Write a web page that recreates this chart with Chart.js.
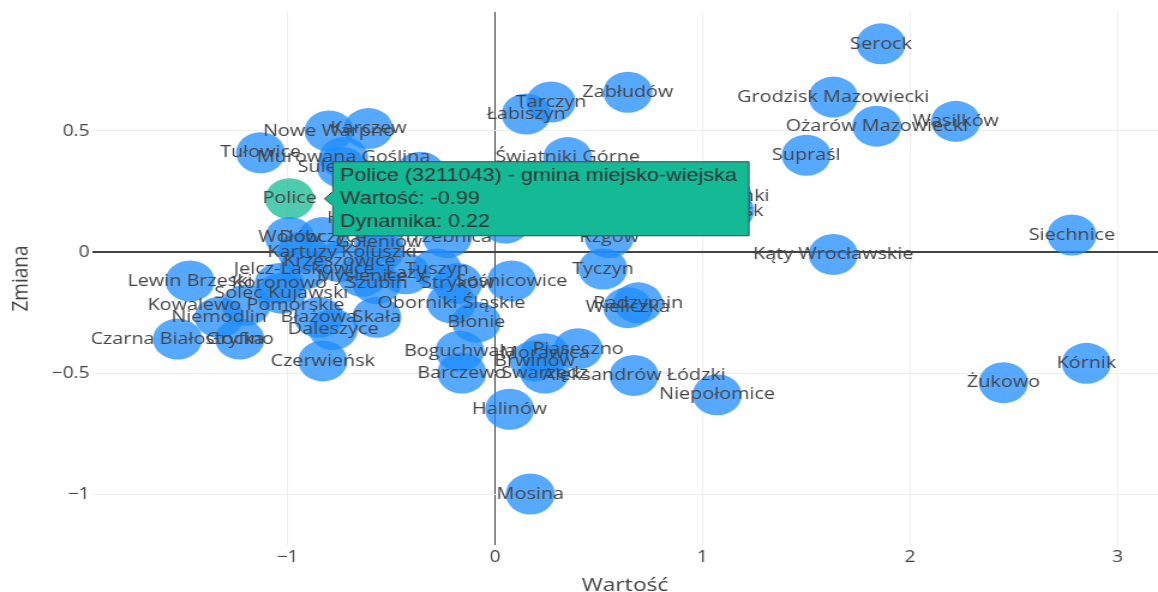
<!DOCTYPE html>
<html>
<head>
<meta charset="utf-8">
<script src="https://cdn.jsdelivr.net/npm/chart.js@4.4.0/dist/chart.umd.min.js"></script>
<style>
html, body { margin: 0; padding: 0; background: #fff; overflow: hidden; }
/* the reference picture is stretched horizontally, so the chart is drawn narrow and scaled */
#wrap { width: 965px; height: 592px; transform: scaleX(1.2); transform-origin: 0 0; }
</style>
</head>
<body>
<div id="wrap"><canvas id="chart" width="965" height="592"></canvas></div>
<script>
const gminy = [
    "Serock", "Grodzisk Mazowiecki", "Ożarów Mazowiecki", "Wasilków", "Supraśl",
    "Kąty Wrocławskie", "Siechnice", "Kórnik", "Żukowo", "Niepołomice",
    "Aleksandrów Łódzki", "Halinów", "Mosina", "Tyczyn", "Radzymin",
    "Wieliczka", "Piaseczno", "Morawica", "Swarzędz", "Brwinów",
    "Barczewo", "Boguchwała", "Błonie", "Oborniki Śląskie", "Sośnicowice",
    "Stryków", "Tuszyn", "Łazy", "Szubin", "Myślenice",
    "Koronowo", "Jelcz-Laskowice", "Krzeszowice", "Kartuzy", "Koluszki",
    "Wołów", "Dobczyce", "Goleniów", "Trzebnica", "Lewin Brzeski",
    "Solec Kujawski", "Kowalewo Pomorskie", "Niemodlin", "Błażowa", "Skała",
    "Daleszyce", "Czarna Białostocka", "Gryfino", "Czerwieńsk", "Tułowice",
    "Nowe Warpno", "Karczew", "Murowana Goślina", "Sulechów", "Hajnówka",
    "Świątniki Górne", "Tarczyn", "Łabiszyn", "Zabłudów", "Rzgów",
    "Łomianki", "Pułtusk", "Dziwnów", "Wołczyn"
];
const wartosc = [
    1.86, 1.63, 1.84, 2.22, 1.50,
    1.63, 2.78, 2.85, 2.45, 1.07,
    0.67, 0.07, 0.17, 0.52, 0.69,
    0.64, 0.40, 0.24, 0.24, 0.19,
    -0.16, -0.17, -0.09, -0.21, 0.08,
    -0.18, -0.28, -0.43, -0.57, -0.64,
    -1.04, -0.92, -0.75, -0.93, -0.56,
    -0.99, -0.83, -0.56, -0.23, -1.47,
    -1.03, -1.20, -1.33, -0.85, -0.57,
    -0.78, -1.53, -1.23, -0.83, -1.13,
    -0.80, -0.61, -0.73, -0.74, -0.59,
    0.35, 0.27, 0.15, 0.64, 0.55,
    1.12, 1.13, -0.36, 0.05
];
const zmiana = [
    0.86, 0.64, 0.52, 0.54, 0.40,
    -0.01, 0.07, -0.46, -0.54, -0.59,
    -0.51, -0.65, -1.00, -0.07, -0.21,
    -0.23, -0.40, -0.42, -0.50, -0.45,
    -0.50, -0.41, -0.29, -0.21, -0.12,
    -0.13, -0.07, -0.09, -0.13, -0.10,
    -0.13, -0.07, -0.04, 0.00, 0.00,
    0.06, 0.06, 0.04, 0.06, -0.12,
    -0.17, -0.22, -0.27, -0.27, -0.27,
    -0.32, -0.36, -0.36, -0.45, 0.41,
    0.50, 0.51, 0.39, 0.35, 0.14,
    0.39, 0.62, 0.57, 0.66, 0.06,
    0.23, 0.17, 0.33, 0.12
];

// highlighted gmina (hovered in the reference)
const wybranaNazwa = "Police";
const wybranaKod = "3211043";
const wybranaTyp = "gmina miejsko-wiejska";
const wybranaWartosc = -0.99;
const wybranaZmiana = 0.22;

const xTicks = [-1, 0, 1, 2, 3];
const yTicks = [-1, -0.5, 0, 0.5];

Chart.defaults.font.family = '"Open Sans", sans-serif';

const minus = v => (v < 0 ? "\u2212" + Math.abs(v) : String(v));

// names written in the middle of each bubble
const bubbleLabels = {
    id: "bubbleLabels",
    afterDatasetsDraw(chart) {
        const { ctx, chartArea } = chart;
        ctx.save();
        ctx.beginPath();
        ctx.rect(chartArea.left, chartArea.top, chartArea.right - chartArea.left, chartArea.bottom - chartArea.top);
        ctx.clip();
        ctx.font = '16.5px "Open Sans"';
        ctx.fillStyle = "#444";
        ctx.textAlign = "center";
        ctx.textBaseline = "middle";
        chart.data.datasets.forEach((ds, i) => {
            chart.getDatasetMeta(i).data.forEach((pt, j) => {
                ctx.fillText(ds.names[j], pt.x, pt.y);
            });
        });
        ctx.restore();
    }
};

const chart = new Chart(document.getElementById("chart"), {
    type: "scatter",
    data: {
        datasets: [{
            label: "gminy",
            names: gminy,
            data: gminy.map((g, i) => ({ x: wartosc[i], y: zmiana[i] })),
            backgroundColor: "rgba(30,140,255,0.75)",
            borderWidth: 0,
            pointRadius: 20.5,
            pointHoverRadius: 20.5,
            clip: 0
        }, {
            label: wybranaNazwa,
            names: [wybranaNazwa],
            data: [{ x: wybranaWartosc, y: wybranaZmiana }],
            backgroundColor: "rgba(20,185,150,0.75)",
            borderWidth: 0,
            pointRadius: 20.5,
            pointHoverRadius: 20.5,
            clip: 0
        }]
    },
    options: {
        responsive: false,
        animation: false,
        events: [],
        layout: { autoPadding: false, padding: { top: 12, right: 0, bottom: 0, left: 0 } },
        plugins: {
            legend: { display: false },
            tooltip: {
                position: "average",
                xAlign: "left",
                yAlign: "center",
                backgroundColor: "rgb(20,185,150)",
                borderColor: "#444",
                borderWidth: 1,
                cornerRadius: 0,
                caretSize: 7,
                caretPadding: 29,
                displayColors: false,
                bodyColor: "#333",
                bodyFont: { family: '"Liberation Sans", Arial, sans-serif', size: 18, lineHeight: 23 / 18 },
                bodySpacing: 0,
                padding: { top: 2.5, bottom: 2.5, left: 6, right: 10 },
                callbacks: {
                    title: () => "",
                    label: c => [
                        wybranaNazwa + " (" + wybranaKod + ") - " + wybranaTyp,
                        "Wartość: " + c.parsed.x,
                        "Dynamika: " + c.parsed.y
                    ]
                }
            }
        },
        scales: {
            x: {
                type: "linear",
                min: -1.942,
                max: 3.195,
                afterBuildTicks: s => { s.ticks = xTicks.map(v => ({ value: v })); },
                afterFit: s => { s.height = 47; s.paddingLeft = 0; s.paddingRight = 0; },
                border: { display: false },
                grid: {
                    drawTicks: false,
                    color: c => (c.tick && c.tick.value === 0 ? "#444" : "#eee"),
                    lineWidth: 1
                },
                ticks: {
                    callback: v => minus(v),
                    color: "#444",
                    font: { size: 16 },
                    padding: 3,
                    maxRotation: 0
                },
                title: {
                    display: true,
                    text: "Wartość",
                    color: "#444",
                    font: { size: 19 },
                    padding: { top: 0, bottom: -5 }
                }
            },
            y: {
                type: "linear",
                min: -1.2107,
                max: 0.9917,
                afterBuildTicks: s => { s.ticks = yTicks.map(v => ({ value: v })); },
                afterFit: s => { s.width = 76.7; s.paddingTop = 0; s.paddingBottom = 0; },
                border: { display: false },
                grid: {
                    drawTicks: false,
                    color: c => (c.tick && c.tick.value === 0 ? "#444" : "#eee"),
                    lineWidth: c => (c.tick && c.tick.value === 0 ? 2 : 1)
                },
                ticks: {
                    callback: v => minus(v),
                    color: "#444",
                    font: { size: 16 },
                    padding: 2
                },
                title: {
                    display: true,
                    text: "Zmiana",
                    color: "#444",
                    font: { size: 19 },
                    padding: { top: 6, bottom: 0 }
                }
            }
        }
    },
    plugins: [bubbleLabels]
});

chart.tooltip.setActiveElements([{ datasetIndex: 1, index: 0 }], { x: 0, y: 0 });
chart.update();
</script>
</body>
</html>
